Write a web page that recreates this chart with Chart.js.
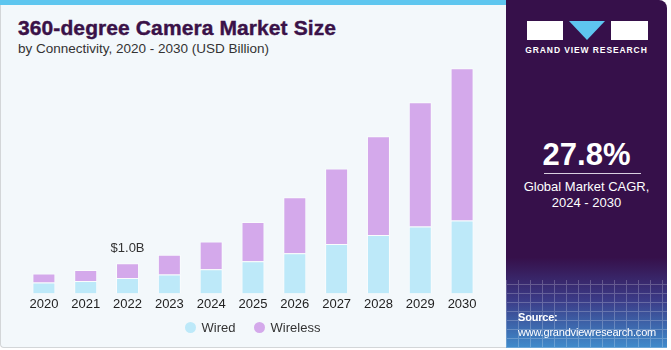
<!DOCTYPE html>
<html>
<head>
<meta charset="utf-8">
<script src="https://cdn.jsdelivr.net/npm/chart.js@4"></script>
<style>
  body { margin: 0; width: 671px; height: 350px; background: #fff; position: relative; overflow: hidden; font-family: "Liberation Sans", Arial, sans-serif; }
  #left { position: absolute; left: 0; top: 0; width: 505px; height: 347px; background: #f3f8fb; border-left: 1px solid #d3d6d8; border-bottom: 1px solid #d3d6d8; border-bottom-left-radius: 4px; }
  #stripe { position: absolute; left: 0; top: 0; width: 506px; height: 5px; background: #5ec6ef; }
  #title { position: absolute; left: 18px; top: 16px; font-size: 21px; font-weight: bold; color: #3a1248; letter-spacing: 0.1px; -webkit-text-stroke: 0.4px #3a1248; }
  #sub { position: absolute; left: 18px; top: 41px; font-size: 13.5px; color: #333; }
  #chartBox { position: absolute; left: 0; top: 0; }
  #legend { position: absolute; left: 0; width: 505px; top: 320px; text-align: center; font-size: 13px; color: #333; }
  #legend span { display: inline-block; margin: 0 9px; }
  #legend i { display: inline-block; width: 11px; height: 11px; border-radius: 50%; margin-right: 6px; vertical-align: -1px; }
  #right { position: absolute; left: 506px; top: 0; width: 161px; height: 348px; border-top-right-radius: 8px;
    background: linear-gradient(180deg, #36104a 0%, #36104a 74%, #3b3a86 86%, #3f8ccc 100%); color: #fff; overflow: hidden; }
  #grid { position: absolute; left: 0; top: 280px; width: 161px; height: 68px; opacity: 0.22;
    background-image: repeating-linear-gradient(90deg, #fff 0 1px, transparent 1px 12px), repeating-linear-gradient(0deg, #fff 0 1px, transparent 1px 9px); }
  .logoBox { position: absolute; top: 21px; height: 19px; background: #fff; }
  #tri { position: absolute; left: 63px; top: 21px; width: 0; height: 0; border-left: 18px solid transparent; border-right: 18px solid transparent; border-top: 19px solid #5ec6ef; }
  #gvr { position: absolute; left: 0; width: 161px; top: 45px; text-align: center; font-size: 8.5px; font-weight: bold; letter-spacing: 0.9px; }
  #cagr { position: absolute; left: 0; width: 161px; top: 137px; text-align: center; font-size: 31px; font-weight: bold; }
  #rule { position: absolute; left: 38px; width: 97px; top: 173px; height: 1px; background: #d9cfe0; }
  #cagrTxt { position: absolute; left: 0; width: 161px; top: 179px; text-align: center; font-size: 13px; line-height: 16px; }
  #src { position: absolute; left: 12px; top: 310px; font-size: 11px; line-height: 15px; letter-spacing: -0.2px; }
</style>
</head>
<body>
<div id="left"></div>
<div id="stripe"></div>
<div id="title">360-degree Camera Market Size</div>
<div id="sub">by Connectivity, 2020 - 2030 (USD Billion)</div>
<div id="chartBox"><canvas id="myChart" width="500" height="350"></canvas></div>
<div id="legend"></div>
<div id="right">
  <div id="grid"></div>
  <div class="logoBox" style="left:21px;width:36px"></div>
  <div id="tri"></div>
  <div class="logoBox" style="left:105px;width:37px"></div>
  <div id="gvr">GRAND VIEW RESEARCH</div>
  <div id="cagr">27.8%</div>
  <div id="rule"></div>
  <div id="cagrTxt">Global Market CAGR,<br>2024 - 2030</div>
  <div id="src"><b>Source:</b><br>www.grandviewresearch.com</div>
</div>
<script>
// chart data
const years = ["2020", "2021", "2022", "2023", "2024", "2025", "2026", "2027", "2028", "2029", "2030"];
const wired = [0.36, 0.41, 0.51, 0.63, 0.80, 1.07, 1.34, 1.64, 1.94, 2.23, 2.43];
const wireless = [0.30, 0.37, 0.49, 0.66, 0.93, 1.31, 1.86, 2.52, 3.29, 4.13, 5.06];
const labelIndex = 2; // "$1.0B" sits over 2022

// draws the total label above one bar
const totalLabel = {
  id: "totalLabel",
  afterDatasetsDraw(chart) {
    const ctx = chart.ctx;
    const meta = chart.getDatasetMeta(1);
    const bar = meta.data[labelIndex];
    const total = wired[labelIndex] + wireless[labelIndex];
    ctx.save();
    ctx.font = "13px 'Liberation Sans', Arial, sans-serif";
    ctx.fillStyle = "#333";
    ctx.textAlign = "center";
    ctx.textBaseline = "bottom";
    ctx.fillText("$" + total.toFixed(1) + "B", bar.x, bar.y - 8);
    ctx.restore();
  }
};

var ctx = document.getElementById("myChart").getContext("2d");
var myChart = new Chart(ctx, {
  type: "bar",
  data: {
    labels: years,
    datasets: [
      {
        label: "Wired",
        data: wired,
        backgroundColor: "#bde9f9",
        borderColor: "rgba(255,255,255,0.6)",
        borderWidth: 1,
      },
      {
        label: "Wireless",
        data: wireless,
        backgroundColor: "#d4a9eb",
        borderColor: "rgba(255,255,255,0.6)",
        borderWidth: 1,
      },
    ],
  },
  options: {
    responsive: false,
    animation: false,
    layout: {
      padding: { left: 23, right: 17, top: 53, bottom: 35 },
    },
    datasets: {
      bar: { barPercentage: 0.55, categoryPercentage: 1 },
    },
    plugins: {
      tooltip: { enabled: false },
      legend: { display: false },
    },
    scales: {
      x: {
        stacked: true,
        grid: { display: false, drawTicks: false },
        border: { display: false },
        ticks: {
          color: "#222",
          padding: 3,
          font: { size: 13, family: "'Liberation Sans', Arial, sans-serif" },
        },
      },
      y: {
        stacked: true,
        display: false,
        min: 0,
        max: 8,
      },
    },
  },
  plugins: [totalLabel],
});

// html legend built from the datasets
document.getElementById("legend").innerHTML = myChart.data.datasets
  .map((d) => '<span><i style="background:' + d.backgroundColor + '"></i>' + d.label + "</span>")
  .join("");
</script>
</body>
</html>
